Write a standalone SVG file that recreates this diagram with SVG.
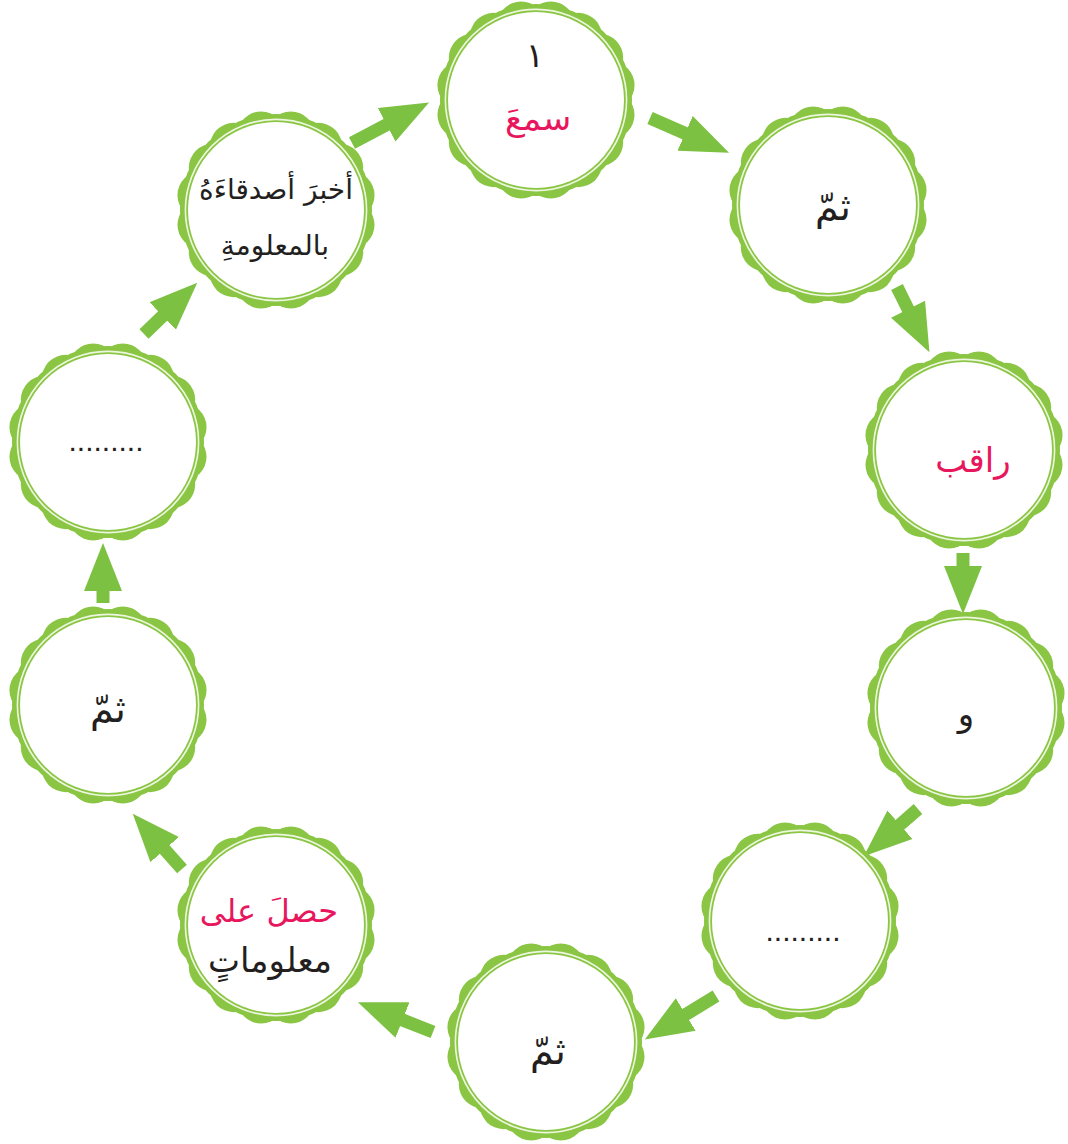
<svg xmlns="http://www.w3.org/2000/svg" xmlns:xlink="http://www.w3.org/1999/xlink" width="1068" height="1144" viewBox="0 0 1068 1144">
<style>
.t{font-family:"DejaVu Sans",sans-serif;font-size:34px;fill:#231f20;text-anchor:middle}
.s{font-size:28px}
.b{font-size:38px}
.p{fill:#e8175d}
.d{font-family:"Liberation Sans",sans-serif;font-size:30px;fill:#231f20;text-anchor:middle}
.cn line{stroke:#7dc142;stroke-width:13;fill:none;marker-end:url(#ah)}
</style>
<defs>
<marker id="ah" markerUnits="userSpaceOnUse" viewBox="0 0 48 40" markerWidth="48" markerHeight="40" refX="1" refY="20" orient="auto">
<path d="M0,1 L48,20 L0,39 Z" fill="#7dc142"/>
</marker>
<g id="cap">
<g fill="#8ac643">
<circle r="96"/>
<circle cx="74.54" cy="14.83" r="24"/><circle cx="63.19" cy="42.22" r="24"/><circle cx="42.22" cy="63.19" r="24"/><circle cx="14.83" cy="74.54" r="24"/>
<circle cx="-74.54" cy="14.83" r="24"/><circle cx="-63.19" cy="42.22" r="24"/><circle cx="-42.22" cy="63.19" r="24"/><circle cx="-14.83" cy="74.54" r="24"/>
<circle cx="74.54" cy="-14.83" r="24"/><circle cx="63.19" cy="-42.22" r="24"/><circle cx="42.22" cy="-63.19" r="24"/><circle cx="14.83" cy="-74.54" r="24"/>
<circle cx="-74.54" cy="-14.83" r="24"/><circle cx="-63.19" cy="-42.22" r="24"/><circle cx="-42.22" cy="-63.19" r="24"/><circle cx="-14.83" cy="-74.54" r="24"/>
</g>
<circle r="90.6" fill="none" stroke="#eef6e2" stroke-width="1.6"/>
<circle r="88" fill="#ffffff"/>
</g>
</defs>
<g id="connectors" class="cn">
<line x1="352" y1="143" x2="387.5" y2="124.3"/>
<line x1="650" y1="118" x2="686" y2="133.8"/>
<line x1="897" y1="287" x2="908.5" y2="310.1"/>
<line x1="963" y1="553" x2="963" y2="567"/>
<line x1="918" y1="809" x2="899.2" y2="825.4"/>
<line x1="716" y1="996" x2="684.9" y2="1015"/>
<line x1="433" y1="1032" x2="401.6" y2="1019.6"/>
<line x1="182" y1="869" x2="164" y2="848.8"/>
<line x1="103" y1="603" x2="103" y2="590"/>
<line x1="144" y1="334" x2="163.4" y2="315.3"/>
</g>
<g id="n1"><use xlink:href="#cap" transform="translate(536,100)"/><text class="t" x="535" y="67">١</text><text class="t p" x="538" y="130">سمعَ</text></g>
<g id="n2"><use xlink:href="#cap" transform="translate(828,205)"/><text class="t b" x="833" y="220">ثمّ</text></g>
<g id="n3"><use xlink:href="#cap" transform="translate(964,450)"/><text class="t p" x="973" y="472">راقب</text></g>
<g id="n4"><use xlink:href="#cap" transform="translate(966,708)"/><text class="t" x="966" y="726">و</text></g>
<g id="n5"><use xlink:href="#cap" transform="translate(800,921)"/><text class="d" x="803" y="941">.........</text></g>
<g id="n6"><use xlink:href="#cap" transform="translate(546,1042)"/><text class="t b" x="548" y="1064">ثمّ</text></g>
<g id="n7"><use xlink:href="#cap" transform="translate(276,925)"/><text class="t p" x="269" y="922" style="font-size:32px">حصلَ على</text><text class="t" x="270" y="972">معلوماتٍ</text></g>
<g id="n8"><use xlink:href="#cap" transform="translate(108,705)"/><text class="t b" x="108" y="722">ثمّ</text></g>
<g id="n9"><use xlink:href="#cap" transform="translate(108,442)"/><text class="d" x="106" y="451">.........</text></g>
<g id="n10"><use xlink:href="#cap" transform="translate(276,210)"/><text class="t s" x="276" y="199">أخبرَ أصدقاءَهُ</text><text class="t s" x="275" y="255">بالمعلومةِ</text></g>
</svg>
